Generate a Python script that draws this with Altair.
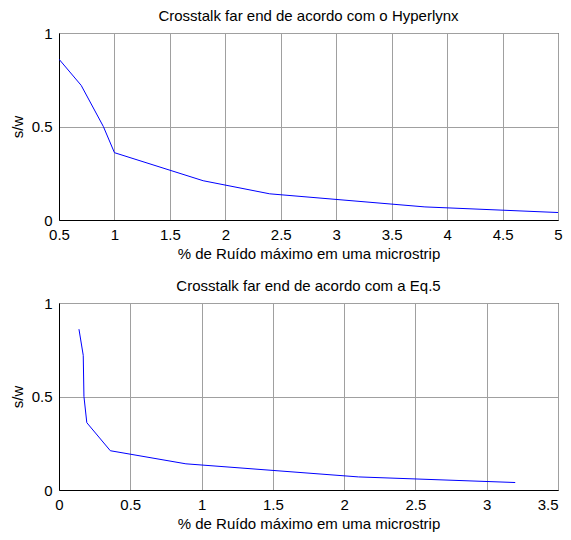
import altair as alt
import pandas as pd

# Data
sw = [0.86, 0.72, 0.50, 0.36, 0.21, 0.14, 0.07, 0.04]
ruido_hyperlynx = [0.5, 0.7, 0.9, 1.0, 1.8, 2.4, 3.8, 5.0]
ruido_eq5 = [0.14, 0.17, 0.175, 0.195, 0.36, 0.89, 2.1, 3.2]

x_ticks_top = [0.5, 1, 1.5, 2, 2.5, 3, 3.5, 4, 4.5, 5]
x_ticks_bot = [0, 0.5, 1, 1.5, 2, 2.5, 3, 3.5]
y_ticks = [0, 0.5, 1]

title_top = "Crosstalk far end de acordo com o Hyperlynx"
title_bot = "Crosstalk far end de acordo com a Eq.5"
x_title = "% de Ruído máximo em uma microstrip"
y_title = "s/w"

df_top = pd.DataFrame({"x": ruido_hyperlynx, "y": sw, "o": range(len(sw))})
df_bot = pd.DataFrame({"x": ruido_eq5, "y": sw, "o": range(len(sw))})

FONT = "Liberation Sans"


def panel(df, domain, ticks, title, last_tick):
    return (
        alt.Chart(df)
        .mark_line(color="#0000ff", strokeWidth=1, clip=True)
        .encode(
            x=alt.X(
                "x:Q",
                scale=alt.Scale(domain=domain, nice=False, zero=False),
                axis=alt.Axis(
                    values=ticks,
                    title=x_title,
                    format="~g",
                    labelAlign={
                        "condition": {"test": f"datum.value == {last_tick}", "value": "right"},
                        "value": "center",
                    } if last_tick is not None else "center",
                ),
            ),
            y=alt.Y(
                "y:Q",
                scale=alt.Scale(domain=[0, 1], nice=False),
                axis=alt.Axis(values=y_ticks, title=y_title, format="~g"),
            ),
            order="o:Q",
        )
        .properties(
            width=499,
            height=187,
            title=alt.TitleParams(title, fontSize=15, font=FONT, fontWeight="normal",
                                  color="black", offset=2),
        )
    )


top = panel(df_top, [0.5, 5], x_ticks_top, title_top, None)
bot = panel(df_bot, [0, 3.5], x_ticks_bot, title_bot, 3.5)

chart = (
    alt.vconcat(top, bot, spacing=16)
    .properties(background="white", padding={"left": 1, "top": 0, "right": 0, "bottom": 0})
    .configure_view(stroke="black", strokeWidth=1)
    .configure_axis(
        domainColor="black",
        domainWidth=1,
        grid=True,
        gridColor="#a0a0a0",
        gridWidth=1,
        ticks=False,
        tickSize=0,
        labelPadding=7,
        labelFont=FONT,
        labelFontSize=15,
        labelColor="black",
        titleFont=FONT,
        titleFontSize=15,
        titleFontWeight="normal",
        titleColor="black",
    )
    .configure_axisX(titlePadding=4, labelBaseline="top")
    .configure_axisY(titlePadding=6)
)

chart.save("out.html", embed_options={"renderer": "svg", "actions": False})
